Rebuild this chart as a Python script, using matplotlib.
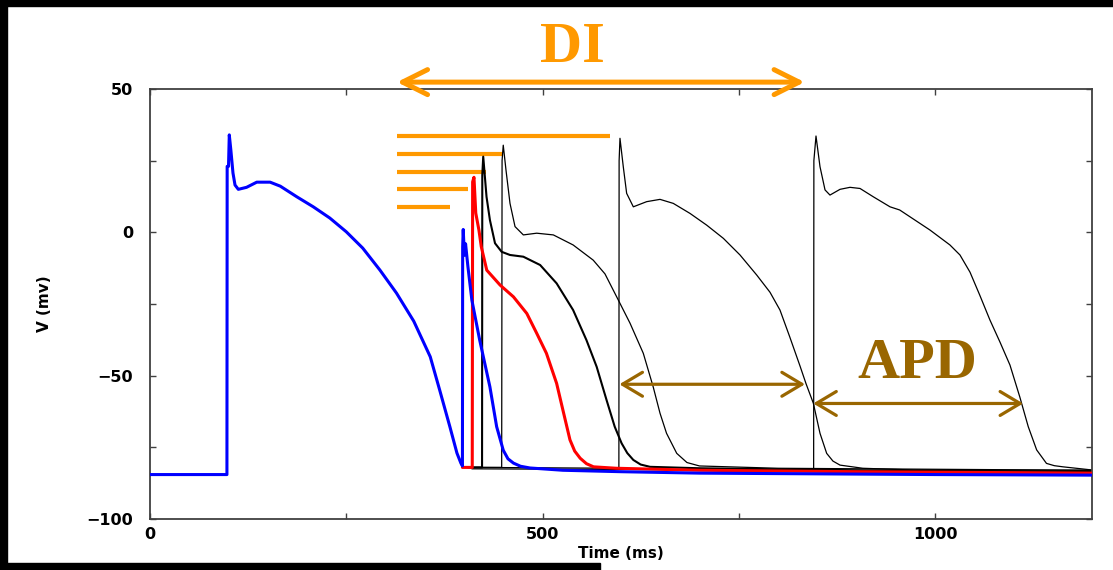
import matplotlib
matplotlib.use("Agg")
import matplotlib.pyplot as plt
from matplotlib.patches import Rectangle
from matplotlib.ticker import MultipleLocator

# ── Colours ────────────────────────────────────────────────────────────────
ORANGE = "#FF9900"
BROWN  = "#996600"
SPINE  = "#404040"

# ── Traces (time in ms, V in mV) ───────────────────────────────────────────
blue_t = [0, 98, 98.3, 100, 101, 103, 105.7, 108.3, 112.5, 123, 136, 153, 166,
          187, 208, 229, 250, 271, 293, 314, 336, 357, 369, 382, 391, 396,
          398, 398.3, 399, 400.5, 402, 405, 410, 420, 433, 441.6, 450, 456, 463,
          472, 484, 526, 600, 700, 1000, 1200]
blue_v = [-84.5, -84.5, 23, 23, 34, 28.7, 20.7, 16.5, 15, 15.7, 17.5, 17.5, 16.1,
          12.4, 8.9, 5, 0.2, -5.5, -13.2, -21.2, -31, -43.4, -55, -67.8, -77, -80.5,
          -81.5, -5, 1, -8, -4, -12, -23.6, -37.6, -53.9, -67.8, -76, -79, -80.5,
          -81.6, -82.2, -83, -83.5, -84, -84.5, -84.7]

red_t = [398, 410.5, 411, 412.7, 415, 419, 422, 429, 446, 463, 480, 492.6, 505,
         518, 526, 535, 541, 548, 556, 565, 594, 700, 900, 1200]
red_v = [-82, -82, 17.6, 19.2, 6.7, 0.8, -5, -13.2, -18.4, -22.5, -28.3, -35.2, -42.2,
         -52.7, -62, -72.4, -76.3, -78.8, -80.7, -81.8, -82.3, -83, -83.5, -84]

# second beat, thick black
ap2_t = [405, 423, 423.3, 424.5, 428.7, 433, 439.5, 448, 458.6, 475.6, 497, 518,
         539, 556, 569, 581.6, 592, 600.8, 608, 615.7, 625, 637, 700, 900, 1200]
ap2_v = [-82, -82, 20, 26.4, 12.4, 4.3, -3.8, -6.8, -7.9, -8.5, -11.4, -17.8,
         -27.1, -37.6, -46.9, -58.5, -67.8, -73.6, -77, -79.4, -81, -81.8, -82.3,
         -83, -83.5]

ap3_t = [410, 448, 448.5, 450, 453.5, 458.6, 465, 475.6, 492.6, 513.8, 539, 564.6,
         579.6, 594.5, 611.5, 628.4, 641, 649.7, 658, 671, 684, 700, 800, 1200]
ap3_v = [-82, -82, 25, 30.4, 21.7, 10.1, 2, -0.9, -0.3, -0.9, -4.4, -9.7,
         -14.5, -22.5, -31.7, -42.2, -53.9, -63.1, -70.1, -77.1, -80.3, -81.5,
         -82.3, -83]

ap4_t = [410, 597.3, 597.6, 598.7, 602.9, 607.2, 615.7, 632.7, 649.7, 666.6, 687.9,
         709.2, 730.4, 751.6, 772.9, 789.8, 802.5, 815, 828, 835.7, 845, 853.5,
         862, 870, 879, 908, 972, 1200]
ap4_v = [-82, -82.3, 25, 32.8, 22.9, 13.6, 8.9, 10.7, 11.5, 10.1, 6.6,
         2.5, -2.1, -7.9, -14.9, -20.9, -27.1, -36.5, -46.6, -52.8, -59.6, -70.1,
         -77.1, -79.8, -81.2, -82.3, -82.9, -83]

ap5_t = [410, 845.4, 845.7, 848.4, 853.5, 859.9, 866.2, 879, 891.7, 904.5, 921.4,
         942.7, 955, 993.6, 1019, 1031.8, 1044.6, 1057, 1070, 1082.8, 1095.5,
         1108, 1118.8, 1129.5, 1142, 1152, 1163, 1200]
ap5_v = [-82.5, -83, 25, 33.6, 22.9, 14.8, 13, 15, 15.7, 15.3, 12.4,
         8.9, 7.8, 0.8, -4.4, -7.9, -13.9, -21.9, -30.6, -38.3, -46.3,
         -57.4, -67.8, -75.9, -80.6, -81.4, -81.8, -82.9]

# ── Annotations ────────────────────────────────────────────────────────────
di_bar_start = 314.3
di_bar_end   = [586, 449.7, 428, 405, 382]
di_bar_v     = [33.7, 27.4, 21.1, 15.0, 8.8]

di_arrow   = (314.6, 834.0, 52.4)
apd_arrows = [(597.9, 834.4, -53.0), (844.8, 1112.4, -59.7)]

# ── Figure ─────────────────────────────────────────────────────────────────
W, H = 1113, 570
fig = plt.figure(figsize=(W / 100, H / 100), dpi=100, facecolor="white")
ax = fig.add_axes([150 / W, 51 / H, 942 / W, 430 / H])

# black frame remnants of the slide
for x0, y0, w, h in [(0, 0, 7, H), (0, H - 6, W, 6), (0, 0, 600, 7)]:
    fig.patches.append(Rectangle((x0 / W, y0 / H), w / W, h / H,
                                 transform=fig.transFigure, color="black", zorder=0))

ax.set_xlim(0, 1200)
ax.set_ylim(-100, 50)

ax.hlines(di_bar_v, di_bar_start, di_bar_end, color=ORANGE, lw=3.0, zorder=1)

line_kw = dict(solid_joinstyle="round", solid_capstyle="round")
ax.plot(ap5_t, ap5_v, color="black", lw=0.9, zorder=2, **line_kw)
ax.plot(ap4_t, ap4_v, color="black", lw=0.9, zorder=2, **line_kw)
ax.plot(ap3_t, ap3_v, color="black", lw=0.9, zorder=2, **line_kw)
ax.plot(ap2_t, ap2_v, color="black", lw=1.5, zorder=2, **line_kw)
ax.plot(red_t, red_v, color="red", lw=2.2, zorder=3, **line_kw)
ax.plot(blue_t, blue_v, color="blue", lw=2.2, zorder=4, **line_kw)

arrow_kw = dict(shrinkA=0, shrinkB=0, capstyle="round", joinstyle="round",
                mutation_scale=20)
ax.annotate("", xy=(di_arrow[1], di_arrow[2]), xytext=(di_arrow[0], di_arrow[2]),
            arrowprops=dict(arrowstyle="<->,head_length=0.9,head_width=0.45",
                            color=ORANGE, lw=3.6, **arrow_kw),
            annotation_clip=False, zorder=5)
for t0, t1, v in apd_arrows:
    ax.annotate("", xy=(t1, v), xytext=(t0, v),
                arrowprops=dict(arrowstyle="<->,head_length=0.72,head_width=0.43",
                                color=BROWN, lw=2.3, **arrow_kw),
                annotation_clip=False, zorder=5)

ax.text(537.6, 59.4, "DI", color=ORANGE, fontsize=42, fontweight="bold",
        family="Liberation Serif", ha="center", va="baseline", clip_on=False)
ax.text(977.7, -50.8, "APD", color=BROWN, fontsize=42, fontweight="bold",
        family="Liberation Serif", ha="center", va="baseline", clip_on=False)

# ── Axes styling ───────────────────────────────────────────────────────────
for sp in ax.spines.values():
    sp.set_color(SPINE)
    sp.set_linewidth(1.3)

ax.xaxis.set_major_locator(MultipleLocator(500))
ax.xaxis.set_minor_locator(MultipleLocator(250))
ax.yaxis.set_major_locator(MultipleLocator(50))
ax.yaxis.set_minor_locator(MultipleLocator(25))
ax.tick_params(which="both", direction="in", top=True, right=True,
               color=SPINE, width=1.0, length=4)
ax.tick_params(axis="x", pad=6, labelsize=11.5)
ax.tick_params(axis="y", pad=12, labelsize=11.5)
for lbl in ax.get_xticklabels() + ax.get_yticklabels():
    lbl.set_fontweight("bold")

ax.set_xlabel("Time (ms)", fontsize=11, fontweight="bold")
ax.set_ylabel("V (mv)", fontsize=11, fontweight="bold")
ax.xaxis.set_label_coords(0.5, -0.062)
ax.yaxis.set_label_coords(-0.104, 0.5)

fig.savefig("out.png", dpi=100, facecolor=fig.get_facecolor())
